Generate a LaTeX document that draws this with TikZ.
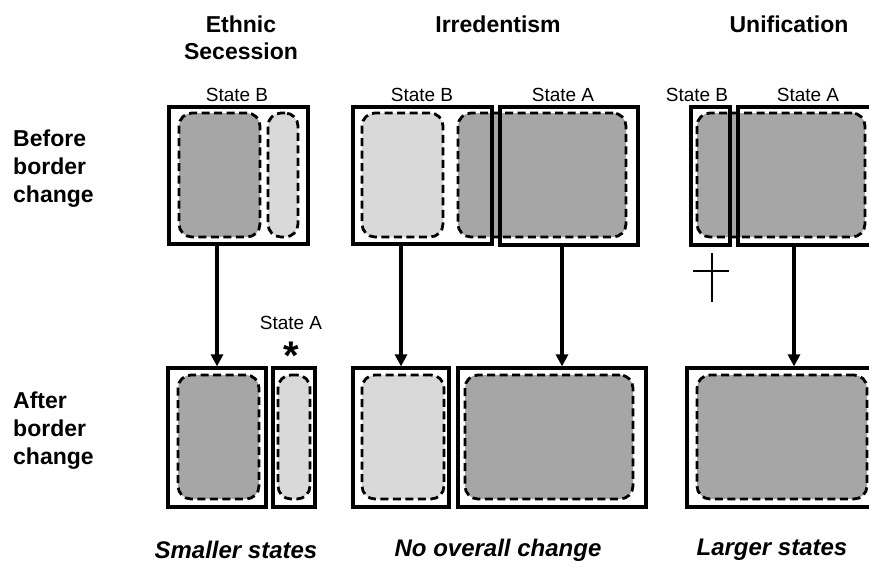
\documentclass[tikz,border=0pt]{standalone}
\usepackage{fontspec}
\setmainfont{Liberation Sans}
\usetikzlibrary{arrows.meta}

\tikzset{
  statebox/.style={draw, line width=3.2pt, inner sep=0pt, fill=none},
  darkarea/.style={draw, dash pattern=on 8pt off 4.5pt, line width=2.8pt, rounded corners=13pt, fill=black!35, inner sep=0pt},
  lightarea/.style={draw, dash pattern=on 8pt off 4.5pt, line width=2.8pt, rounded corners=13pt, fill=black!15, inner sep=0pt},
  statelabel/.style={font=\fontsize{19}{22}\selectfont},
  rowlabel/.style={font=\fontsize{23}{28}\selectfont\bfseries, align=left, anchor=north west, inner sep=0pt},
  collabel/.style={font=\fontsize{23}{27}\selectfont\bfseries, align=center, anchor=north, inner sep=0pt},
  outcome/.style={font=\fontsize{24}{28}\selectfont\bfseries\itshape},
  arr/.style={line width=3.4pt, -{Triangle[length=12pt,width=12pt]}},
  crossline/.style={line width=2.6pt}
}

% area node: name, x1, x2, y1, y2, style
\newcommand{\areanode}[6]{%
  \node[#6, minimum width=#3pt-#2pt, minimum height=#5pt-#4pt] (#1) at ({(#2+#3)/2},{(#4+#5)/2}) {};
}

\begin{document}
\begin{tikzpicture}[x=1pt, y=-1pt]
  \useasboundingbox (0,0) rectangle (869,570);
  \clip (0,0) rectangle (869,570);

  % Column and row titles
  \node[collabel] (hEthnic) at (241,16) {Ethnic\\Secession};
  \node[collabel] (hIrred) at (498,16) {Irredentism};
  \node[collabel] (hUnif) at (789,16) {Unification};
  \node[rowlabel] (rBefore) at (13,130) {Before\\border\\change};
  \node[rowlabel] (rAfter) at (13,392) {After\\border\\change};

  % Populations before border change
  \areanode{esDark}{179}{260}{113}{237}{darkarea}
  \areanode{esLight}{268}{298}{113}{237}{lightarea}
  \areanode{irLight}{362}{443}{113}{237}{lightarea}
  \areanode{irDark}{458}{626}{113}{237}{darkarea}
  \areanode{unDark}{697}{865}{113}{237}{darkarea}

  % States before border change
  \areanode{esB}{169}{308}{107}{244}{statebox}
  \areanode{irB}{353}{492}{107}{244}{statebox}
  \areanode{irA}{500}{638}{107}{245}{statebox}
  \areanode{unB}{691}{730}{107}{245}{statebox}
  \areanode{unA}{738}{884}{107}{245}{statebox}

  \node[statelabel] (lesB) at (237,95) {State B};
  \node[statelabel] (lirB) at (422,95) {State B};
  \node[statelabel] (lirA) at (563,95) {State A};
  \node[statelabel] (lunB) at (697,95) {State B};
  \node[statelabel] (lunA) at (808,95) {State A};

  % Populations after border change
  \areanode{esDark2}{178}{259}{375}{499}{darkarea}
  \areanode{esLight2}{278}{310}{375}{499}{lightarea}
  \areanode{irLight2}{362}{444}{375}{499}{lightarea}
  \areanode{irDark2}{465}{633}{375}{499}{darkarea}
  \areanode{unDark2}{697}{867}{375}{499}{darkarea}

  % States after border change
  \areanode{esL}{168}{266}{368}{507}{statebox}
  \areanode{esR}{273}{315}{368}{507}{statebox}
  \areanode{irL}{353}{449}{368}{507}{statebox}
  \areanode{irR}{458}{646}{368}{507}{statebox}
  \areanode{unM}{687}{884}{368}{507}{statebox}

  \node[statelabel] (lesA) at (291,323) {State A};
  \node[font=\fontsize{40}{40}\selectfont\bfseries] (star) at (291,356) {*};

  % Border change arrows
  \draw[arr] (esL.north |- esB.south) -- (esL.north);
  \draw[arr] (irL.north |- irB.south) -- (irL.north);
  \draw[arr] ([xshift=-7pt]irA.south) -- ([xshift=-7pt]irA.south |- irR.north);
  \draw[arr] ([xshift=-17pt]unA.south) -- ([xshift=-17pt]unA.south |- unM.north);

  % State B disappears
  \coordinate (crossTop) at (712,253);
  \coordinate (crossBot) at (712,302);
  \coordinate (crossL) at (693,271);
  \coordinate (crossR) at (729,271);
  \draw[crossline] (crossTop) -- (crossBot);
  \draw[crossline] (crossL) -- (crossR);

  % Outcomes
  \node[outcome] (oSmall) at (236,550) {Smaller states};
  \node[outcome] (oNone) at (498,550) {No overall change};
  \node[outcome] (oLarge) at (772,550) {Larger states};
\end{tikzpicture}
\end{document}
